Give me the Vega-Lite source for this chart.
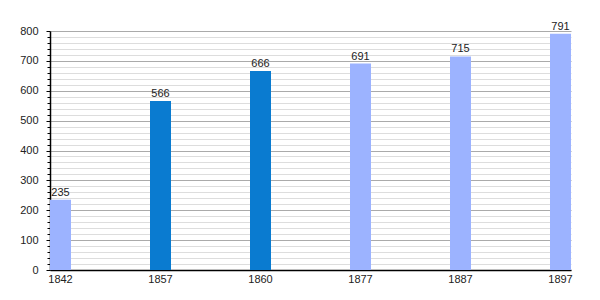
{
  "$schema": "https://vega.github.io/schema/vega-lite/v6.json",
  "width": 521,
  "height": 239,
  "autosize": {"type": "none"},
  "padding": {"left": 50, "top": 31, "right": 29, "bottom": 30},
  "background": "white",
  "config": {
    "view": {"stroke": null},
    "font": "Liberation Sans",
    "axis": {"labelFont": "Liberation Sans", "labelFontSize": 11, "labelColor": "#222222", "titleFont": "Liberation Sans"}
  },
  "data": {
    "values": [
      {"year": "1842", "population": 235, "kind": "light"},
      {"year": "1857", "population": 566, "kind": "dark"},
      {"year": "1860", "population": 666, "kind": "dark"},
      {"year": "1877", "population": 691, "kind": "light"},
      {"year": "1887", "population": 715, "kind": "light"},
      {"year": "1897", "population": 791, "kind": "light"}
    ]
  },
  "encoding": {
    "x": {
      "field": "year",
      "type": "ordinal",
      "sort": null,
      "scale": {"paddingInner": 0.79, "paddingOuter": 0},
      "axis": {
        "title": null,
        "labelAngle": 0,
        "ticks": false,
        "domain": true,
        "domainColor": "#000000",
        "domainWidth": 1.5,
        "labelPadding": 3,
        "grid": false
      }
    }
  },
  "layer": [
    {
      "mark": {"type": "text", "opacity": 0},
      "encoding": {
        "y": {
          "field": "population",
          "type": "quantitative",
          "scale": {"domain": [0, 800], "nice": false},
          "axis": {
            "orient": "left",
            "title": null,
            "labels": false,
            "domain": false,
            "values": [20,40,60,80,120,140,160,180,220,240,260,280,320,340,360,380,420,440,460,480,520,540,560,580,620,640,660,680,720,740,760,780],
            "grid": true,
            "gridColor": "#dddddd",
            "gridWidth": 1,
            "ticks": true,
            "tickSize": 3,
            "tickColor": "#000000"
          }
        },
        "text": {"field": "population"}
      }
    },
    {
      "mark": {"type": "bar"},
      "encoding": {
        "y": {
          "field": "population",
          "type": "quantitative",
          "scale": {"domain": [0, 800], "nice": false},
          "axis": {
            "orient": "left",
            "title": null,
            "values": [0,100,200,300,400,500,600,700,800],
            "grid": true,
            "gridColor": "#aaaaaa",
            "gridWidth": 1,
            "domain": true,
            "domainColor": "#000000",
            "domainWidth": 1.5,
            "tickColor": "#000000",
            "tickSize": 4,
            "labelPadding": 8
          }
        },
        "color": {
          "field": "kind",
          "type": "nominal",
          "scale": {"domain": ["light", "dark"], "range": ["#9cb3ff", "#0a7bd0"]},
          "legend": null
        }
      }
    },
    {
      "mark": {"type": "text", "dy": -7, "fontSize": 11, "color": "#222222"},
      "encoding": {
        "y": {"field": "population", "type": "quantitative", "axis": null},
        "text": {"field": "population", "type": "quantitative"}
      }
    }
  ],
  "resolve": {"axis": {"y": "independent"}}
}
